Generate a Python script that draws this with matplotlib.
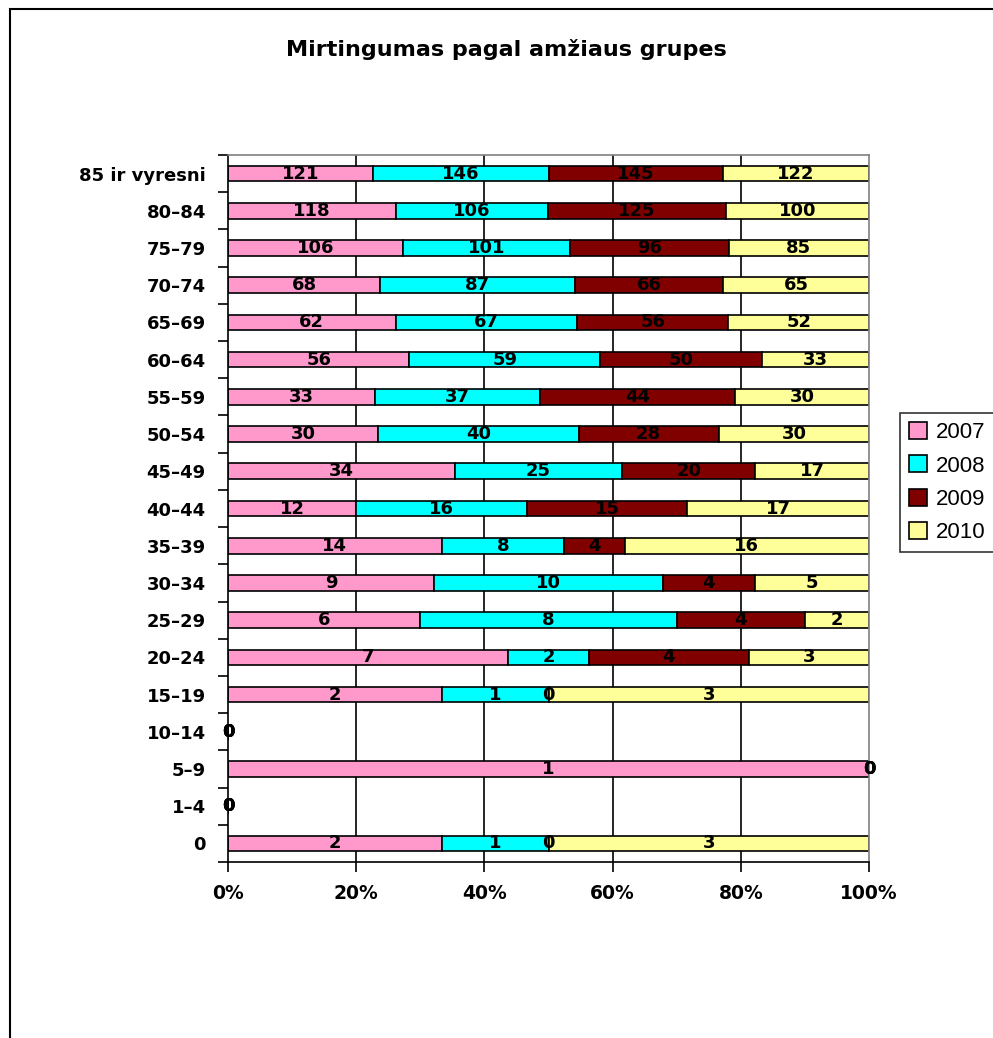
import matplotlib
matplotlib.use("Agg")
import matplotlib.pyplot as plt
from matplotlib.patches import Rectangle
import numpy as np

categories = ["85 ir vyresni", "80–84", "75–79", "70–74", "65–69", "60–64", "55–59",
              "50–54", "45–49", "40–44", "35–39", "30–34", "25–29", "20–24", "15–19",
              "10–14", "5–9", "1–4", "0"]
series_names = ["2007", "2008", "2009", "2010"]
v2007 = [121, 118, 106, 68, 62, 56, 33, 30, 34, 12, 14, 9, 6, 7, 2, 0, 1, 0, 2]
v2008 = [146, 106, 101, 87, 67, 59, 37, 40, 25, 16, 8, 10, 8, 2, 1, 0, 0, 0, 1]
v2009 = [145, 125, 96, 66, 56, 50, 44, 28, 20, 15, 4, 4, 4, 4, 0, 0, 0, 0, 0]
v2010 = [122, 100, 85, 65, 52, 33, 30, 30, 17, 17, 16, 5, 2, 3, 3, 0, 0, 0, 3]
colors = ["#FF99CC", "#00FFFF", "#800000", "#FFFF99"]
xticklabels = ["0%", "20%", "40%", "60%", "80%", "100%"]

W, H = 993, 1038
fig = plt.figure(figsize=(W / 100, H / 100), dpi=100)
fig.patch.set_facecolor("white")

# outer border (partially cut off at right and bottom)
fig.add_artist(Rectangle((10 / W, -0.05), 1.2, 1 - 9 / H + 0.05, transform=fig.transFigure,
                         fill=False, edgecolor="black", linewidth=1.5))

ax = fig.add_axes([228 / W, 1 - 862 / H, 641 / W, 707 / H])
n = len(categories)
y = np.arange(n)[::-1]
data = np.array([v2007, v2008, v2009, v2010], dtype=float)
totals = data.sum(axis=0)
safe = np.where(totals == 0, 1, totals)
frac = data / safe

ax.set_xlim(0, 1)
ax.set_ylim(-0.5, n - 0.5)
for xv in [0.2, 0.4, 0.6, 0.8]:
    ax.axvline(xv, color="black", linewidth=1.2, zorder=0)

lefts = np.zeros(n)
font = dict(family="DejaVu Sans", weight="bold", size=13)
for i, name in enumerate(series_names):
    ax.barh(y, frac[i], left=lefts, height=0.42, color=colors[i], edgecolor="black",
            linewidth=1.2, label=name, zorder=2)
    for j in range(n):
        xc = lefts[j] + frac[i][j] / 2
        ax.text(xc, y[j], f"{int(data[i][j])}", ha="center", va="center",
                color="black", zorder=3, **font)
    lefts = lefts + frac[i]

ax.set_yticks(y)
ax.set_yticklabels(categories, fontdict=font)
ax.set_yticks(np.arange(-0.5, n, 1), minor=True)
ax.tick_params(axis="y", which="major", length=0, pad=16)
ax.tick_params(axis="y", which="minor", length=7, width=1.2, direction="out", color="black")
ax.set_xticks([0, 0.2, 0.4, 0.6, 0.8, 1.0])
ax.set_xticklabels(xticklabels, fontdict=dict(family="DejaVu Sans", weight="bold", size=13.5))
ax.tick_params(axis="x", length=7, width=1.2, direction="out", pad=9)

for s in ["top", "right"]:
    ax.spines[s].set_color("#808080")
    ax.spines[s].set_linewidth(1.2)
for s in ["left", "bottom"]:
    ax.spines[s].set_color("black")
    ax.spines[s].set_linewidth(1.2)

fig.text(506 / W, 1 - 49 / H, "Mirtingumas pagal amžiaus grupes", ha="center", va="center",
         family="DejaVu Sans", weight="bold", size=16)

leg = fig.legend(loc="upper left", bbox_to_anchor=(900 / W, 1 - 413 / H), frameon=True,
                 fancybox=False, edgecolor="black", prop=dict(family="Liberation Sans", size=16),
                 handlelength=0.8, handleheight=0.8, handletextpad=0.4, labelspacing=0.55,
                 borderpad=0.4, borderaxespad=0)
leg.get_frame().set_linewidth(1.2)

fig.savefig("out.png", dpi=100)
